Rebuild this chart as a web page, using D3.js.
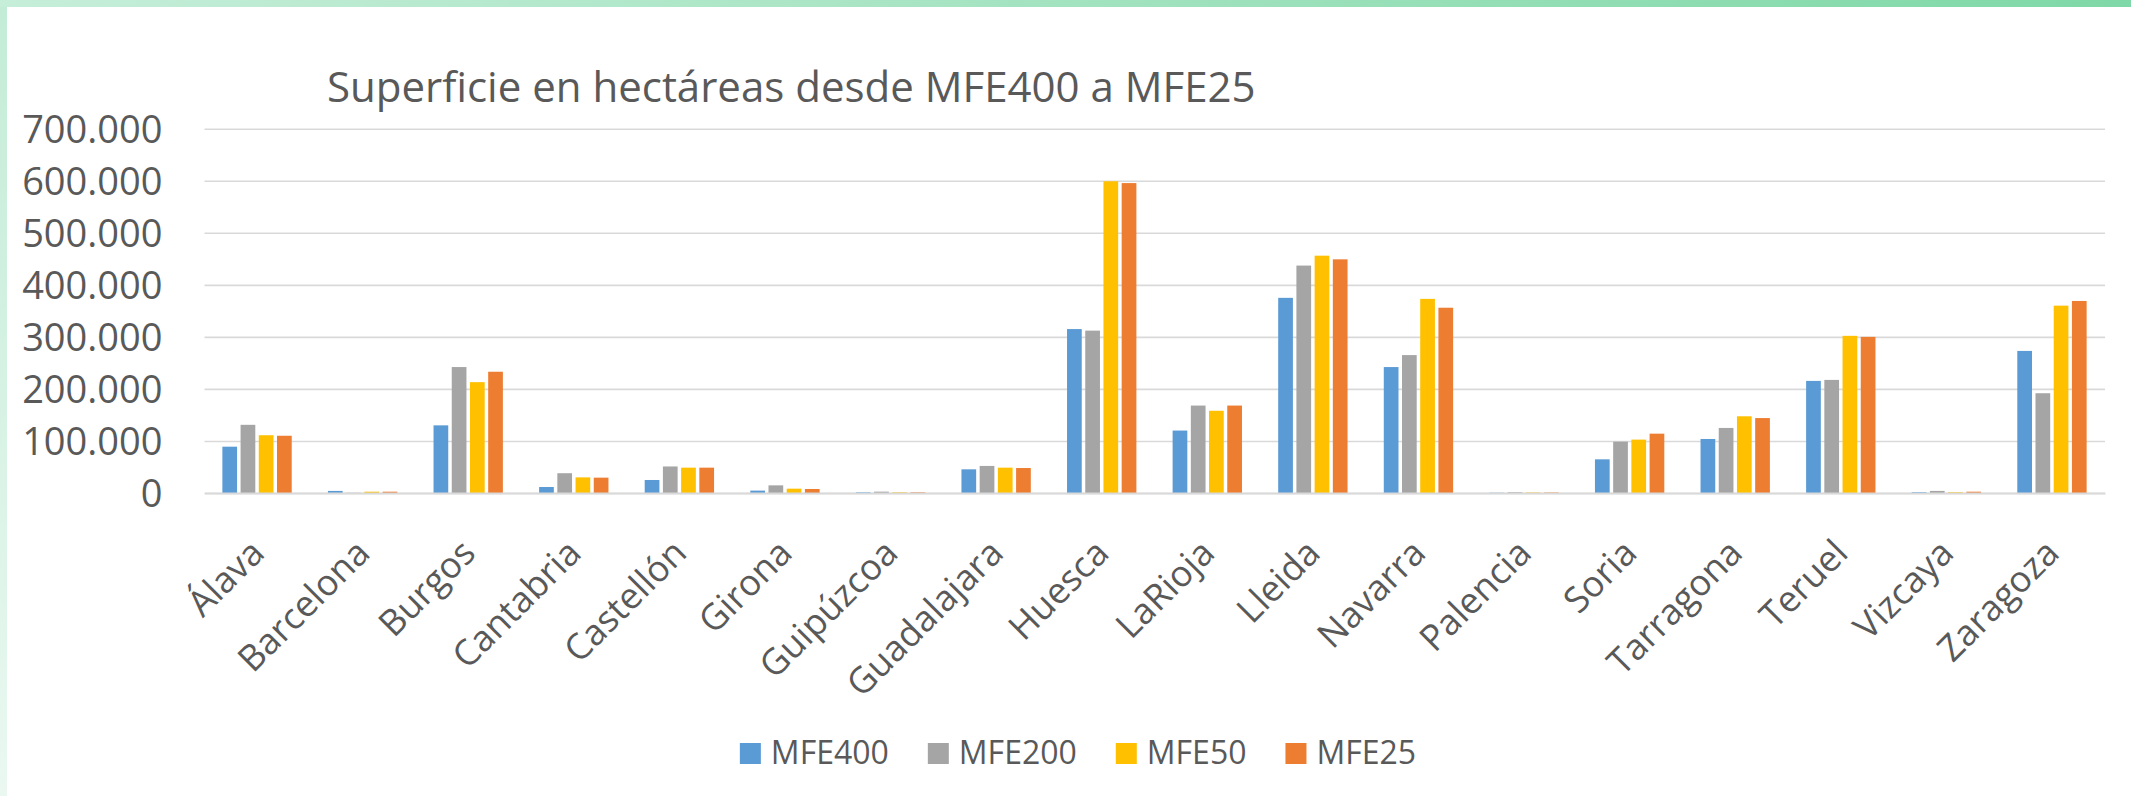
<!DOCTYPE html>
<html>
<head>
<meta charset="utf-8">
<script src="https://cdn.jsdelivr.net/npm/d3@7"></script>
<style>
  html, body { margin: 0; padding: 0; background: #ffffff; }
  svg { display: block; }
  text { font-family: "Open Sans", "Noto Sans", sans-serif; fill: #595959; }
</style>
</head>
<body>
<svg id="chart" width="2131" height="796"></svg>
<script>
// ---- data ----
const categories = ["Álava","Barcelona","Burgos","Cantabria","Castellón","Girona","Guipúzcoa","Guadalajara","Huesca","LaRioja","Lleida","Navarra","Palencia","Soria","Tarragona","Teruel","Vizcaya","Zaragoza"];
const seriesNames = ["MFE400","MFE200","MFE50","MFE25"];
const mfe400 = [89000, 4000, 130000, 11500, 25000, 4600, 1300, 45500, 315000, 120000, 375000, 242000, 500, 64700, 103800, 215400, 1500, 273000];
const mfe200 = [131000, 500, 242000, 38000, 51000, 14700, 2600, 52000, 312000, 168000, 437000, 265000, 1500, 98700, 125000, 217300, 4000, 191700];
const mfe50  = [111000, 2500, 213000, 30000, 48700, 8300, 1300, 48700, 599000, 158000, 456000, 373000, 1000, 102600, 147400, 302000, 1500, 360000];
const mfe25  = [110000, 2500, 233000, 29500, 48700, 7700, 1300, 48000, 595500, 168000, 449000, 356000, 1000, 114000, 144000, 300000, 2500, 369000];
const yTicks = [0, 100000, 200000, 300000, 400000, 500000, 600000, 700000];
const titleText = "Superficie en hectáreas desde MFE400 a MFE25";

const seriesValues = [mfe400, mfe200, mfe50, mfe25];
const colors = ["#5B9BD5", "#A5A5A5", "#FFC000", "#ED7D31"];

// ---- layout ----
const W = 2131, H = 796;
const plot = { left: 204.5, right: 2105, top: 128.7, bottom: 493 };

const svg = d3.select("#chart");

// frame decoration
const defs = svg.append("defs");
const gTop = defs.append("linearGradient").attr("id", "gTop").attr("x1", "0").attr("x2", "1").attr("y1", "0").attr("y2", "0");
gTop.append("stop").attr("offset", "0").attr("stop-color", "#c6eed9");
gTop.append("stop").attr("offset", "1").attr("stop-color", "#7fd8a7");
const gLeft = defs.append("linearGradient").attr("id", "gLeft").attr("x1", "0").attr("x2", "0").attr("y1", "0").attr("y2", "1");
gLeft.append("stop").attr("offset", "0").attr("stop-color", "#c3ecd6");
gLeft.append("stop").attr("offset", "1").attr("stop-color", "#eaf8f1");

svg.append("rect").attr("x", 0).attr("y", 0).attr("width", W).attr("height", H).attr("fill", "#ffffff");
svg.append("rect").attr("x", 0).attr("y", 0).attr("width", 7).attr("height", H).attr("fill", "url(#gLeft)");
svg.append("rect").attr("x", 0).attr("y", 0).attr("width", W).attr("height", 7).attr("fill", "url(#gTop)");

// scales
const x0 = d3.scaleBand().domain(categories).range([plot.left, plot.right]).paddingInner(0.31).paddingOuter(0.155);
const x1 = d3.scaleBand().domain(seriesNames).range([0, x0.bandwidth()]).padding(0);
const y = d3.scaleLinear().domain([0, 700000]).range([plot.bottom, plot.top]);

const locale = d3.formatLocale({ decimal: ",", thousands: ".", grouping: [3], currency: ["", "€"] });
const fmt = locale.format(",");

// gridlines + y labels
const yAxis = d3.axisLeft(y).tickValues(yTicks).tickFormat(fmt).tickSize(-(plot.right - plot.left)).tickPadding(42);
const gy = svg.append("g").attr("transform", `translate(${plot.left},0)`).call(yAxis);
gy.select(".domain").remove();
gy.selectAll(".tick line").attr("stroke", "#d9d9d9").attr("stroke-width", 1.6);
gy.selectAll(".tick text").attr("font-size", 38).attr("fill", "#595959").attr("dy", "0.36em");

// bars
const rows = categories.map((c, i) => ({ cat: c, vals: seriesNames.map((s, j) => ({ s, j, v: seriesValues[j][i] })) }));
const groups = svg.append("g").selectAll("g").data(rows).join("g")
  .attr("transform", d => `translate(${x0(d.cat)},0)`);
groups.selectAll("rect").data(d => d.vals).join("rect")
  .attr("x", d => x1(d.s) + 1.5)
  .attr("width", x1.bandwidth() - 3.5)
  .attr("y", d => y(d.v))
  .attr("height", d => y(0) - y(d.v))
  .attr("fill", d => colors[d.j]);

// x axis line
const xAxis = d3.axisBottom(x0).tickSize(0).tickPadding(0);
const gx = svg.append("g").attr("transform", `translate(0,${plot.bottom})`).call(xAxis);
gx.select(".domain").attr("stroke", "#d9d9d9").attr("stroke-width", 2.2);
gx.selectAll(".tick text")
  .attr("font-size", 36)
  .attr("fill", "#595959")
  .attr("text-anchor", "end")
  .attr("dy", 0)
  .attr("y", 0)
  .attr("transform", "translate(9,62) rotate(-45)");

// title
svg.append("text").attr("x", 327).attr("y", 101.5).attr("font-size", 42).attr("fill", "#595959").text(titleText);

// legend
const legend = svg.append("g");
let lx = 0;
const items = [];
seriesNames.forEach((name, j) => {
  const g = legend.append("g");
  g.append("rect").attr("x", 0).attr("y", -21).attr("width", 21).attr("height", 21).attr("fill", colors[j]);
  const t = g.append("text").attr("x", 31).attr("y", 0).attr("font-size", 32).attr("fill", "#595959").text(name);
  const w = t.node().getComputedTextLength();
  g.attr("transform", `translate(${lx},0)`);
  lx += 31 + w + 39;
});
const legendWidth = lx - 39;
legend.attr("transform", `translate(${1078 - legendWidth / 2},764)`);
</script>
</body>
</html>
